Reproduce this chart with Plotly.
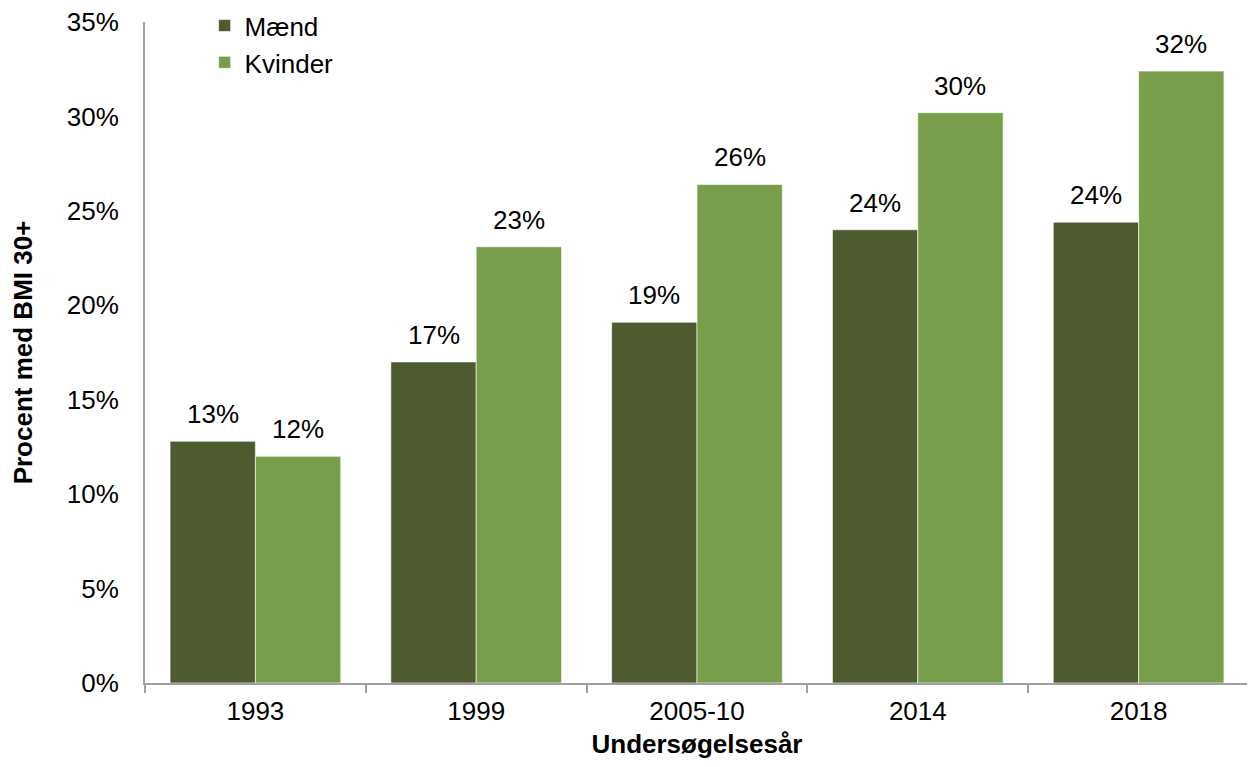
import plotly.graph_objects as go

categories = ["1993", "1999", "2005-10", "2014", "2018"]
maend = [0.128, 0.170, 0.191, 0.240, 0.244]
kvinder = [0.120, 0.231, 0.264, 0.302, 0.324]
series = [("Mænd", maend, "#4E5B31"), ("Kvinder", kvinder, "#799E4B")]

font_family = "Liberation Sans, Arial, sans-serif"
FS = 26
bargap = 0.227

fig = go.Figure()
for name, vals, color in series:
    fig.add_trace(go.Bar(
        name=name, x=categories, y=vals,
        marker=dict(color=color, line=dict(color="rgba(255,255,255,0.6)", width=1)),
        hoverinfo="x+y+name",
    ))

# data labels as annotations (positioned from the data values)
W, H = 1241, 751
ml, mr, mt, mb = 137, 0, 14, 76
plot_w = W - ml - mr
bar_px = plot_w / len(categories) * (1 - bargap) / 2
annotations = []
for k, (name, vals, color) in enumerate(series):
    shift = (-0.5 if k == 0 else 0.5) * bar_px
    for i, v in enumerate(vals):
        annotations.append(dict(
            x=i, y=v, xref="x", yref="y", text=f"{round(v * 100):d}%",
            showarrow=False, xanchor="center", yanchor="bottom",
            xshift=shift, yshift=10,
            font=dict(size=FS, color="black", family=font_family),
        ))

fig.update_layout(
    width=W, height=H,
    margin=dict(l=ml, r=mr, t=mt, b=mb, autoexpand=False),
    paper_bgcolor="white", plot_bgcolor="white",
    barmode="group", bargap=bargap, bargroupgap=0,
    font=dict(family=font_family, size=FS, color="black"),
    annotations=annotations,
    legend=dict(x=0.054, y=1.03, xanchor="left", yanchor="top",
                font=dict(size=FS), bgcolor="rgba(0,0,0,0)",
                tracegroupgap=0, itemclick=False),
    xaxis=dict(
        type="category",
        showline=True, linecolor="#A0A0A0", linewidth=2,
        ticks="outside", tickson="boundaries", ticklen=8, tickcolor="#A0A0A0", tickwidth=2,
        tickfont=dict(size=FS), ticklabelstandoff=4,
        title=dict(text="<b>Undersøgelsesår</b>", font=dict(size=FS), standoff=18),
        showgrid=False,
    ),
    yaxis=dict(
        range=[0, 0.35], dtick=0.05, tickformat=".0%",
        showline=True, linecolor="#A0A0A0", linewidth=2,
        ticks="", showgrid=False, zeroline=False,
        tickfont=dict(size=FS), ticklabelstandoff=19, ticklabeloverflow="allow",
        title=dict(text="<b>Procent med BMI 30+</b>", font=dict(size=FS), standoff=30),
    ),
)

fig.write_html("out.html")
